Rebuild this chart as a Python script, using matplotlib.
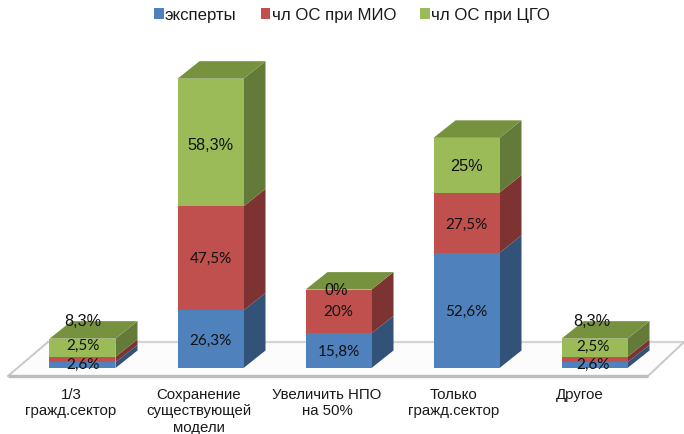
import matplotlib
matplotlib.use("Agg")
import matplotlib.pyplot as plt
from matplotlib.patches import Polygon, Rectangle
from matplotlib.transforms import ScaledTranslation
import numpy as np

categories = ["1/3\nгражд.сектор", "Сохранение\nсуществующей\nмодели",
              "Увеличить НПО\nна 50%", "Только\nгражд.сектор", "Другое"]
series_names = ["эксперты", "чл ОС при МИО", "чл ОС при ЦГО"]
experts = [2.6, 26.3, 15.8, 52.6, 2.6]
mio = [2.5, 47.5, 20, 27.5, 2.5]
cgo = [8.3, 58.3, 0, 25, 8.3]
value_labels = [["2,6%", "26,3%", "15,8%", "52,6%", "2,6%"],
                ["2,5%", "47,5%", "20%", "27,5%", "2,5%"],
                ["8,3%", "58,3%", "0%", "25%", "8,3%"]]

front = ["#4F81BD", "#C0504D", "#9BBB59"]
side = ["#325278", "#7C3331", "#647A39"]
top = ["#3F6797", "#9A403E", "#76923F"]

W, H = 684, 435
BASE_PX, PX_PER_PCT, STEP_PX, X0_PX = 369, 2.19, 128, 82.5
BAR_W = 66 / STEP_PX
DX, DY = 22 / STEP_PX, 17.5 / PX_PER_PCT

plt.rcParams["font.family"] = "Liberation Sans"
fig = plt.figure(figsize=(W / 100, H / 100), dpi=100, facecolor="white")
ax = fig.add_axes([0, (H - BASE_PX) / H, 1, BASE_PX / H])
ax.set_xlim(-X0_PX / STEP_PX, (W - X0_PX) / STEP_PX)
ax.set_ylim(0, BASE_PX / PX_PER_PCT)
for s in ax.spines.values():
    s.set_visible(False)
ax.set_yticks([])

# floor
fy0, fy1 = -8 / PX_PER_PCT, 26 / PX_PER_PCT
fl, fr = -0.582, 4.418
bl, br = -0.27, 4.70
ax.add_patch(Polygon([(fl, fy0), (fr, fy0), (br, fy1), (bl, fy1)], closed=True,
                     fc="#FCFCFC", ec="none", clip_on=False, zorder=1))
ax.plot([bl, br], [fy1, fy1], color="#D4D4D4", lw=1.6, clip_on=False, zorder=1.2)
ax.plot([fl, bl], [fy0, fy1], color="#C8C8C8", lw=1.4, clip_on=False, zorder=1.2)
ax.plot([fr, br], [fy0, fy1], color="#C8C8C8", lw=1.4, clip_on=False, zorder=1.2)
ax.plot([fl, fr], [fy0, fy0], color="#BDBDBD", lw=2.4, clip_on=False, zorder=1.3,
        solid_capstyle="butt")

x = np.arange(len(categories))
series = [experts, mio, cgo]
bottom = np.zeros(len(x))
handles = []
for k, vals in enumerate(series):
    vals = np.array(vals, float)
    ax.bar(x, vals, BAR_W, bottom=bottom, color=front[k], zorder=3 + k * 0.01,
           label=series_names[k])
    handles.append(Rectangle((0, 0), 1, 1, fc=front[k]))
    for xi, v, b0 in zip(x, vals, bottom):
        r = xi + BAR_W / 2
        ax.add_patch(Polygon([(r, b0), (r + DX, b0 + DY), (r + DX, b0 + v + DY), (r, b0 + v)],
                             closed=True, fc=side[k], ec="none", zorder=2.9))
    bottom = bottom + vals

for xi, t in zip(x, bottom):
    l, r = xi - BAR_W / 2, xi + BAR_W / 2
    ax.add_patch(Polygon([(l, t), (r, t), (r + DX, t + DY), (l + DX, t + DY)],
                         closed=True, fc=top[2], ec="none", zorder=2.95))

# data labels, offsets in pixels (dx, up)
offsets = {(2, 0): (0, 27), (2, 4): (-3, 27), (1, 0): (0, 15), (1, 4): (-2, 14),
           (0, 0): (0, 1), (0, 4): (-2, 1), (2, 2): (-2, 0), (2, 1): (0, -2), (1, 1): (0, 0),
           (0, 1): (0, -1), (1, 2): (0, 0), (0, 3): (0, 0), (1, 3): (0, -1), (2, 3): (0, 0),
           (0, 2): (0, 0)}
bottom = np.zeros(len(x))
for k, vals in enumerate(series):
    vals = np.array(vals, float)
    for i, (v, b0) in enumerate(zip(vals, bottom)):
        ox, oy = offsets.get((k, i), (0, 0))
        ax.annotate(value_labels[k][i], (x[i], b0 + v / 2), xytext=(ox * 0.72, oy * 0.72),
                    textcoords="offset points", ha="center", va="center",
                    fontsize=11.7 if k == 2 else 11,
                    family="Liberation Sans" if k == 2 else "Lato",
                    color="#111111", zorder=6, annotation_clip=False)
    bottom = bottom + vals

ax.set_xticks(x)
ax.set_xticklabels(categories, fontsize=10.8, color="#1A1A1A", linespacing=1.22)
ax.tick_params(axis="x", length=0, pad=13.5)
shifts = [-11.5, -11.5, -11.5, -12.5, -14.5]
for lab, s in zip(ax.get_xticklabels(), shifts):
    lab.set_multialignment("center")
    lab.set_transform(lab.get_transform() + ScaledTranslation(s / 100, 0, fig.dpi_scale_trans))

fig.legend(handles, series_names, loc="upper left", bbox_to_anchor=(141 / W, 1 + 5 / H),
           ncol=3, frameon=False, fontsize=12.1, handlelength=0.55, handleheight=0.55,
           handletextpad=0.08, columnspacing=1.45, labelcolor="#1A1A1A", borderpad=0.3)
fig.savefig("out.png", dpi=100, facecolor="white")
